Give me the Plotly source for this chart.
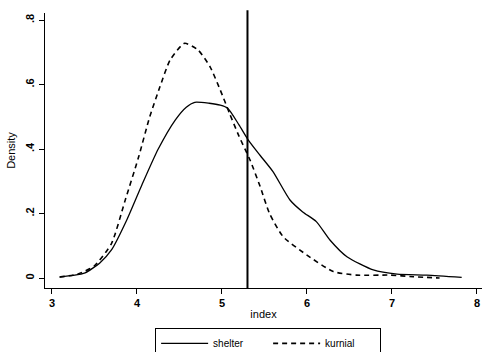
import plotly.graph_objects as go

# --- data ---
shelter_x = [3.09, 3.25, 3.39, 3.56, 3.70, 3.88, 4.06, 4.25, 4.45, 4.58, 4.68, 4.85, 4.98, 5.07,
             5.20, 5.31, 5.45, 5.60, 5.80, 5.95, 6.11, 6.27, 6.47, 6.78, 7.06, 7.41, 7.82]
shelter_y = [0.003, 0.008, 0.016, 0.046, 0.087, 0.18, 0.29, 0.40, 0.49, 0.53, 0.545, 0.542, 0.536, 0.526,
             0.475, 0.428, 0.38, 0.33, 0.242, 0.205, 0.175, 0.118, 0.066, 0.025, 0.012, 0.009, 0.002]

kurnial_x = [3.09, 3.30, 3.50, 3.70, 3.86, 4.02, 4.15, 4.27, 4.39, 4.56, 4.72, 4.86, 4.98, 5.09,
             5.20, 5.33, 5.45, 5.56, 5.72, 6.00, 6.31, 6.58, 6.98, 7.25, 7.56]
kurnial_y = [0.003, 0.012, 0.038, 0.107, 0.24, 0.376, 0.50, 0.593, 0.676, 0.728, 0.707, 0.655, 0.583, 0.51,
             0.44, 0.366, 0.283, 0.20, 0.128, 0.071, 0.02, 0.009, 0.009, 0.004, 0.0]

vline_x = 5.3

x_tickvals = [3, 4, 5, 6, 7, 8]
x_ticktext = ["3", "4", "5", "6", "7", "8"]
y_tickvals = [0, 0.2, 0.4, 0.6, 0.8]
y_ticktext = ["0", ".2", ".4", ".6", ".8"]

FONT = "Liberation Sans, Arial, sans-serif"

fig = go.Figure()
fig.add_trace(go.Scatter(x=shelter_x, y=shelter_y, mode="lines", name="shelter",
                         line=dict(color="black", width=1.3, shape="spline", smoothing=0.6)))
fig.add_trace(go.Scatter(x=kurnial_x, y=kurnial_y, mode="lines", name="kurnial",
                         line=dict(color="black", width=1.6, dash="5px,4px", shape="spline", smoothing=0.6)))

fig.add_shape(type="line", xref="x", yref="paper", x0=vline_x, x1=vline_x, y0=0, y1=1.01,
              line=dict(color="black", width=2))

fig.update_layout(
    width=484, height=352,
    margin=dict(l=45, r=2, t=13, b=64, autoexpand=False),
    paper_bgcolor="white", plot_bgcolor="white",
    font=dict(family=FONT, size=11, color="black"),
    showlegend=True,
    legend=dict(orientation="h", x=0.252, xanchor="left", y=-0.145, yanchor="top",
                bordercolor="black", borderwidth=1, bgcolor="white",
                font=dict(family=FONT, size=10, color="black"),
                itemwidth=47, entrywidth=50, entrywidthmode="pixels", tracegroupgap=0),
    xaxis=dict(range=[2.918, 8.059], tickvals=x_tickvals, ticktext=x_ticktext,
               showline=True, linecolor="black", linewidth=1.3, ticks="outside", ticklen=5,
               tickcolor="black", showgrid=False, zeroline=False,
               tickfont=dict(family=FONT, size=11, color="black", weight="bold"),
               title=dict(text="index", standoff=1, font=dict(family=FONT, size=11, color="black"))),
    yaxis=dict(range=[-0.031, 0.822], tickvals=y_tickvals, ticktext=y_ticktext,
               showline=True, linecolor="black", linewidth=1.3, ticks="outside", ticklen=5,
               tickcolor="black", showgrid=False, zeroline=False, tickangle=-90,
               tickfont=dict(family=FONT, size=11, color="black", weight="bold"),
               title=dict(text="Density", standoff=6, font=dict(family=FONT, size=11, color="black"))),
)

fig.write_html("out.html")
